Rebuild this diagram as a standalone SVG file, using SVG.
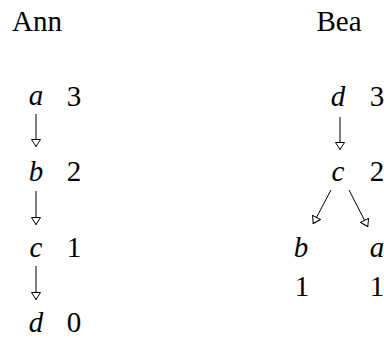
<svg xmlns="http://www.w3.org/2000/svg" width="384" height="338" viewBox="0 0 384 338">
<defs>
<style>
text{font-family:'Liberation Serif','Times New Roman',Times,'DejaVu Serif',serif;font-size:29px;fill:#000;text-anchor:middle}
.v{font-style:italic}
.e{stroke:#000;stroke-width:1;fill:none;marker-end:url(#ah)}
</style>
<marker id="ah" viewBox="0 0 8 10" refX="8" refY="5" markerWidth="8" markerHeight="10" markerUnits="userSpaceOnUse" orient="auto">
<path d="M0.5,0.5 L7.5,5 L0.5,9.5 Z" fill="#fff" stroke="#000" stroke-width="1"/>
</marker>
</defs>
<rect width="384" height="338" fill="#fff"/>
<g id="titles">
<text x="37" y="31">Ann</text>
<text x="339" y="31">Bea</text>
</g>
<g id="ann-a"><text class="v" x="36" y="105">a</text><text x="74" y="106">3</text></g>
<g id="ann-b"><text class="v" x="36" y="181">b</text><text x="74" y="181">2</text></g>
<g id="ann-c"><text class="v" x="36" y="257">c</text><text x="74" y="257">1</text></g>
<g id="ann-d"><text class="v" x="36" y="332">d</text><text x="74" y="332">0</text></g>
<g id="bea-d"><text class="v" x="338" y="106">d</text><text x="377" y="106">3</text></g>
<g id="bea-c"><text class="v" x="338" y="181">c</text><text x="377" y="181">2</text></g>
<g id="bea-b"><text class="v" x="301" y="257">b</text><text x="302" y="296">1</text></g>
<g id="bea-a"><text class="v" x="377" y="257">a</text><text x="377" y="296">1</text></g>
<g id="connectors">
<path class="e" d="M36,114 V147"/>
<path class="e" d="M36,191 V225"/>
<path class="e" d="M36,266 V300"/>
<path class="e" d="M340,117 V150"/>
<path class="e" d="M331,190 L313,224"/>
<path class="e" d="M349,190 L368,227"/>
</g>
</svg>
